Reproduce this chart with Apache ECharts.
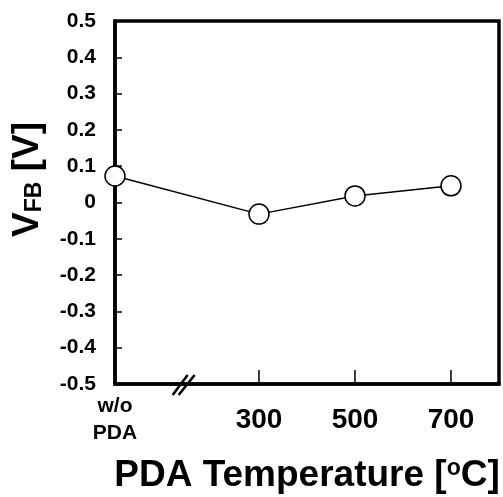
<!DOCTYPE html>
<html>
<head>
<meta charset="utf-8">
<script src="https://cdn.jsdelivr.net/npm/echarts@6/dist/echarts.min.js"></script>
<style>html,body{margin:0;padding:0;background:#fff}#c{width:503px;height:497px}</style>
</head>
<body>
<div id="c"></div>
<script>
// PDA temperature positions (0 = without PDA)
var temps = [0, 300, 500, 700];
var tempLabels = ['w/o\nPDA', '300', '500', '700'];
var vfb = [0.073, -0.032, 0.018, 0.046];
var yTicks = [-0.5, -0.4, -0.3, -0.2, -0.1, 0, 0.1, 0.2, 0.3, 0.4, 0.5];
var breakAt = 143;

var FONT = '"Liberation Sans", Arial, sans-serif';
var chart = echarts.init(document.getElementById('c'), null, {renderer: 'canvas'});

var option = {
  animation: false,
  backgroundColor: '#fff',
  grid: {
    left: 115, right: 4, top: 21, bottom: 113,
    containLabel: false, outerBoundsMode: 'none',
    show: true, borderColor: '#000', borderWidth: 3.5, backgroundColor: 'transparent'
  },
  xAxis: {
    type: 'value', min: 0, max: 800,
    name: 'PDA Temperature [{sup|o}C]',
    nameLocation: 'middle', nameGap: 73,
    nameTextStyle: {
      fontFamily: FONT, fontWeight: 'bold', fontSize: 37, color: '#000',
      rich: {sup: {fontFamily: FONT, fontWeight: 'bold', fontSize: 23, color: '#000', verticalAlign: 'top', padding: [0, 0, 14, 0]}}
    },
    splitLine: {show: false},
    axisLine: {show: true, onZero: false, lineStyle: {color: '#000', width: 3.5}},
    axisTick: {show: true, inside: true, length: 14, lineStyle: {color: '#000', width: 1.5},
      customValues: temps.slice(1)},
    axisLabel: {
      customValues: temps,
      margin: 36, verticalAlign: 'middle', color: '#000',
      formatter: function (v) {
        var i = temps.indexOf(v);
        if (i < 0) return '';
        return i === 0 ? '{s|' + tempLabels[i].split('\n').join('}\n{s|') + '}' : '{b|' + tempLabels[i] + '}';
      },
      rich: {
        s: {fontFamily: FONT, fontWeight: 'bold', fontSize: 21, lineHeight: 27, color: '#000'},
        b: {fontFamily: FONT, fontWeight: 'bold', fontSize: 28, color: '#000'}
      }
    }
  },
  yAxis: {
    type: 'value', min: -0.5, max: 0.5, interval: 0.1,
    name: '{v|V}{sub|FB}{v| [V]}',
    nameLocation: 'middle', nameRotate: 90, nameGap: 69,
    nameTextStyle: {
      padding: [0, 0, 0, 46],
      rich: {
        v: {fontFamily: FONT, fontWeight: 'bold', fontSize: 37, color: '#000'},
        sub: {fontFamily: FONT, fontWeight: 'bold', fontSize: 23, color: '#000', verticalAlign: 'bottom', padding: [11, 0, 0, 0]}
      }
    },
    splitLine: {show: false},
    axisLine: {show: true, lineStyle: {color: '#000', width: 3.5}},
    axisTick: {show: true, inside: true, length: 7, lineStyle: {color: '#000', width: 1.5}},
    axisLabel: {
      margin: 19, color: '#000', fontFamily: FONT, fontWeight: 'bold', fontSize: 21,
      formatter: function (v) {
        var r = Math.round(v * 10) / 10;
        return r === 0 ? '0' : r.toFixed(1);
      }
    }
  },
  series: [{
    type: 'line',
    data: temps.map(function (t, i) { return [t, vfb[i]]; }),
    clip: false,
    z: 10,
    symbol: 'circle', symbolSize: 20,
    lineStyle: {color: '#000', width: 1.5},
    itemStyle: {color: '#fff', borderColor: '#000', borderWidth: 1.5}
  }]
};
chart.setOption(option);

// axis break mark on the x axis
var bx = chart.convertToPixel({xAxisIndex: 0}, breakAt);
var by = chart.convertToPixel({yAxisIndex: 0}, -0.5);
chart.setOption({
  graphic: [{
    type: 'group', x: bx, y: by, z: 100,
    children: [
      {type: 'line', shape: {x1: -11, y1: 11, x2: 4, y2: -9}, style: {stroke: '#000', lineWidth: 2.5}},
      {type: 'line', shape: {x1: -5, y1: 11, x2: 11, y2: -9}, style: {stroke: '#000', lineWidth: 2.5}}
    ]
  }]
});
</script>
</body>
</html>
